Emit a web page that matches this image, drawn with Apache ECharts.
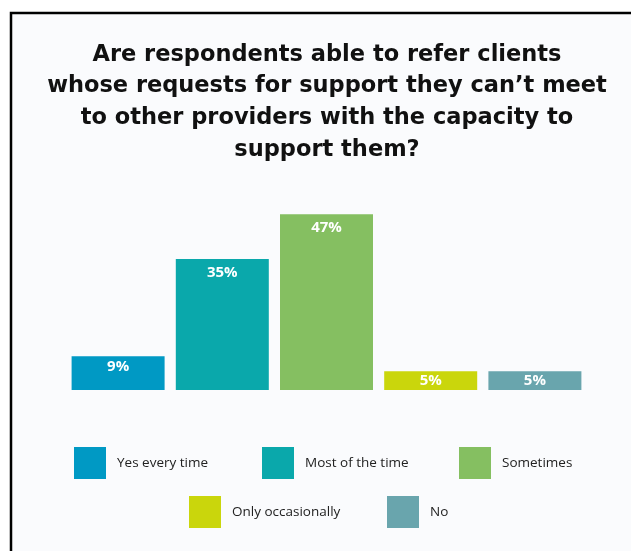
<!DOCTYPE html>
<html>
<head>
<meta charset="utf-8">
<script src="https://cdn.jsdelivr.net/npm/echarts@6/dist/echarts.min.js"></script>
<style>
  html, body { margin: 0; padding: 0; background: #ffffff; }
  #chart { width: 631px; height: 551px; }
</style>
</head>
<body>
<div id="chart"></div>
<script>
// Survey answers and their shares (%)
const categories = ['Yes every time', 'Most of the time', 'Sometimes', 'Only occasionally', 'No'];
const shares = [9, 35, 47, 5, 5];
const barColors = ['#0099c4', '#0aa8ab', '#85bf61', '#cad60c', '#69a5ad'];

const titleText = 'Are respondents able to refer clients\nwhose requests for support they can\u2019t meet\nto other providers with the capacity to\nsupport them?';

// Where each legend entry sits: [left, top]
const legendSpots = [[74, 447], [262, 447], [459, 447], [189, 496], [387, 496]];

// One series per answer, stacked on a shared slot so each gets its own legend entry
const series = categories.map((name, i) => ({
  name: name,
  type: 'bar',
  stack: 'answers',
  barWidth: 93,
  itemStyle: { color: barColors[i] },
  data: shares.map((v, j) => (j === i ? v : null)),
  label: {
    show: true,
    position: shares[i] <= 5 ? 'inside' : 'insideTop',
    distance: shares[i] < 20 ? 3 : 6,
    formatter: '{c}%',
    color: '#ffffff',
    fontFamily: 'Open Sans',
    fontWeight: 'bold',
    fontSize: 15
  }
}));

const legends = categories.map((name, i) => ({
  data: [name],
  left: legendSpots[i][0],
  top: legendSpots[i][1],
  padding: 0,
  itemWidth: 32,
  itemHeight: 32,
  icon: 'rect',
  selectedMode: false,
  textStyle: { fontFamily: 'Open Sans', fontSize: 13.5, color: '#222222', padding: [0, 0, 0, 6] }
}));

const chart = echarts.init(document.getElementById('chart'), null, { renderer: 'canvas' });
chart.setOption({
  backgroundColor: '#ffffff',
  animation: false,
  graphic: [
    {
      type: 'rect',
      z: -10,
      silent: true,
      shape: { x: 11, y: 13, width: 700, height: 600 },
      style: { fill: '#fafbfd', stroke: '#000000', lineWidth: 2.5 }
    },
    {
      type: 'text',
      x: 327,
      y: 39,
      silent: true,
      style: {
        text: titleText,
        align: 'center',
        verticalAlign: 'top',
        fontFamily: 'DejaVu Sans',
        fontWeight: 'bold',
        fontSize: 22.5,
        lineHeight: 31.7,
        fill: '#111111'
      }
    }
  ],
  legend: legends,
  grid: { left: 66, right: 44, top: 203, bottom: 161 },
  xAxis: {
    type: 'category',
    data: categories,
    show: false
  },
  yAxis: {
    type: 'value',
    min: 0,
    max: 50,
    show: false
  },
  series: series
});
</script>
</body>
</html>
